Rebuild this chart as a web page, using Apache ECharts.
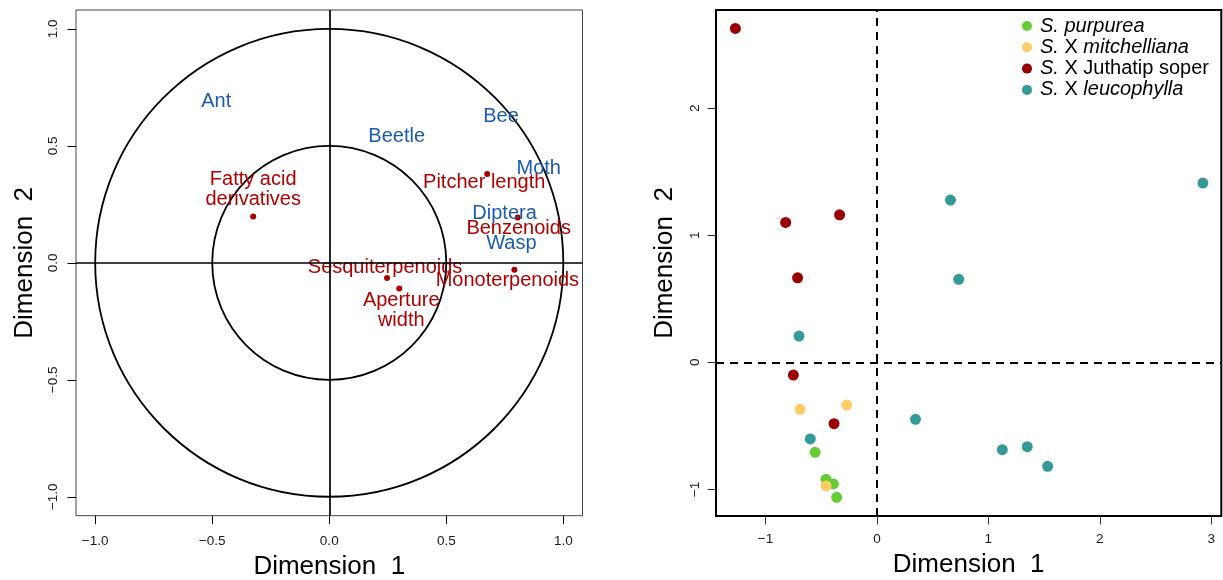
<!DOCTYPE html>
<html>
<head>
<meta charset="utf-8">
<script src="https://cdn.jsdelivr.net/npm/echarts@6/dist/echarts.min.js"></script>
<style>
html,body{margin:0;padding:0;background:#fff;}
#chart{width:1223px;height:580px;}
</style>
</head>
<body>
<div id="chart"></div>
<script>
// ---------- Left panel: correlation circle ----------
const loadingNames = ['Fatty acid\nderivatives', 'Pitcher length', 'Benzenoids', 'Monoterpenoids', 'Sesquiterpenoids', 'Aperture\nwidth'];
const loadingX = [-0.325, 0.675, 0.805, 0.791, 0.247, 0.299];
const loadingY = [0.198, 0.380, 0.194, -0.030, -0.065, -0.110];

const pollinatorNames = ['Ant', 'Beetle', 'Bee', 'Moth', 'Diptera', 'Wasp'];
const pollinatorX = [-0.483, 0.288, 0.734, 0.895, 0.749, 0.778];
const pollinatorY = [0.689, 0.542, 0.625, 0.404, 0.209, 0.081];

const circleRadii = [0.5, 1.0];
const leftTicks = [-1.0, -0.5, 0.0, 0.5, 1.0];

// ---------- Right panel: individual plants ----------
const speciesNames = ['S. purpurea', 'S. X mitchelliana', 'S. X Juthatip soper', 'S. X leucophylla'];
const purpureaX = [-0.555, -0.457, -0.391, -0.361];
const purpureaY = [-0.708, -0.920, -0.957, -1.062];
const mitchellianaX = [-0.690, -0.271, -0.457];
const mitchellianaY = [-0.370, -0.336, -0.973];
const juthatipX = [-1.270, -0.819, -0.335, -0.712, -0.750, -0.385];
const juthatipY = [2.627, 1.101, 1.161, 0.665, -0.100, -0.483];
const leucophyllaX = [2.925, 0.660, 0.734, -0.699, 0.346, -0.598, 1.125, 1.349, 1.532];
const leucophyllaY = [1.410, 1.277, 0.653, 0.207, -0.448, -0.603, -0.687, -0.664, -0.818];

const rightXTicks = [-1, 0, 1, 2, 3];
const rightYTicks = [-1, 0, 1, 2];
const referenceLines = [0];

// ---------- styles ----------
const FONT = '"Liberation Sans", Arial, sans-serif';
const RED = '#A80000';
const RED_TXT = '#B00000';
const BLUE_TXT = '#1A5CAE';
const speciesColors = ['#66CC33', '#FFCC66', '#990000', '#339999'];
const redLabelOffsets = [[0, -27], [-3, 9], [1, 11], [-7, 11], [-2, -11], [2, 22]];
const legendRich = {
  'S. purpurea': '{i|S. purpurea}',
  'S. X mitchelliana': '{i|S.} X {i|mitchelliana}',
  'S. X Juthatip soper': '{i|S.} X Juthatip soper',
  'S. X leucophylla': '{i|S.} X {i|leucophylla}'
};

const minus = s => s.replace('-', '\u2212');
const pairs = (xs, ys) => xs.map((x, i) => [x, ys[i]]);

function axisCommon(gridIndex, ticks, fmt, margin, tickColor, rotate) {
  return {
    gridIndex: gridIndex,
    type: 'value',
    axisLine: { show: false, onZero: false },
    splitLine: { show: false },
    axisTick: { show: true, inside: false, length: 8.5, customValues: ticks, lineStyle: { color: tickColor, width: 1 } },
    axisLabel: { show: true, customValues: ticks, formatter: fmt, margin: margin, rotate: rotate || 0,
      color: '#1a1a1a', fontSize: 13.5, fontFamily: FONT },
    nameLocation: 'middle',
    nameTextStyle: { color: '#000', fontSize: 26, fontFamily: FONT }
  };
}

const chart = echarts.init(document.getElementById('chart'), null, { renderer: 'canvas' });

const leftFmt = v => minus(Number(v).toFixed(1));
const rightFmt = v => minus(String(Math.round(v)));

const option = {
  animation: false,
  backgroundColor: '#fff',
  grid: [
    { left: 76, right: 640.5, top: 10, bottom: 64.3, show: true, borderColor: '#444', borderWidth: 1, backgroundColor: 'transparent', outerBoundsMode: 'none', containLabel: false },
    { left: 716, right: 1.7, top: 10, bottom: 64, show: true, borderColor: '#000', borderWidth: 2, backgroundColor: 'transparent', outerBoundsMode: 'none', containLabel: false }
  ],
  xAxis: [
    Object.assign(axisCommon(0, leftTicks, leftFmt, 19, '#000'), { min: -1.082, max: 1.082, name: 'Dimension  1', nameGap: 36 }),
    Object.assign(axisCommon(1, rightXTicks, rightFmt, 16, '#333'), { min: -1.444, max: 3.090, name: 'Dimension  1', nameGap: 36 })
  ],
  yAxis: [
    Object.assign(axisCommon(0, leftTicks, leftFmt, 15.5, '#000', 90), { min: -1.081, max: 1.081, name: 'Dimension  2', nameGap: 38 }),
    Object.assign(axisCommon(1, rightYTicks, rightFmt, 14, '#333', 90), { min: -1.209, max: 2.772, name: 'Dimension  2', nameGap: 38 })
  ],
  legend: {
    data: speciesNames,
    orient: 'vertical',
    left: 1017,
    top: 11,
    icon: 'circle',
    itemWidth: 16,
    itemHeight: 10,
    itemGap: 1.3,
    selectedMode: false,
    formatter: name => legendRich[name],
    textStyle: {
      color: '#000', fontSize: 20, fontFamily: FONT, lineHeight: 20,
      rich: { i: { fontStyle: 'italic', fontSize: 20, fontFamily: FONT, lineHeight: 20, color: '#000' } }
    }
  },
  series: [
    // circles of correlation
    {
      type: 'custom', xAxisIndex: 0, yAxisIndex: 0, silent: true, z: 1,
      data: circleRadii.map(r => [0, 0, r]),
      encode: { x: 0, y: 1 },
      renderItem: function (params, api) {
        const c = api.coord([api.value(0), api.value(1)]);
        const s = api.size([api.value(2), api.value(2)]);
        return { type: 'ellipse', shape: { cx: c[0], cy: c[1], rx: s[0], ry: s[1] },
          style: { fill: 'none', stroke: '#000', lineWidth: 1.8 } };
      }
    },
    // axes through origin (left)
    {
      type: 'scatter', xAxisIndex: 0, yAxisIndex: 0, data: [], silent: true, z: 1,
      markLine: { silent: true, symbol: ['none', 'none'], animation: false, label: { show: false },
        lineStyle: { color: '#000', type: 'solid', width: 1.7 },
        emphasis: { disabled: true },
        data: referenceLines.map(v => ({ xAxis: v })).concat(referenceLines.map(v => ({ yAxis: v }))) }
    },
    // trait / volatile loadings
    {
      type: 'scatter', xAxisIndex: 0, yAxisIndex: 0, symbol: 'circle', symbolSize: 6, z: 3, silent: true,
      itemStyle: { color: RED, opacity: 1 },
      data: loadingNames.map((n, i) => ({ name: n, value: [loadingX[i], loadingY[i]], label: { offset: redLabelOffsets[i] } })),
      label: { show: true, position: 'inside', formatter: p => p.name, color: RED_TXT, fontSize: 20, fontFamily: FONT,
        lineHeight: 20, align: 'center', verticalAlign: 'middle' }
    },
    // pollinator labels (text only)
    {
      type: 'custom', xAxisIndex: 0, yAxisIndex: 0, silent: true, z: 4,
      data: pairs(pollinatorX, pollinatorY),
      encode: { x: 0, y: 1 },
      renderItem: function (params, api) {
        const c = api.coord([api.value(0), api.value(1)]);
        return { type: 'text', x: c[0], y: c[1],
          style: { text: pollinatorNames[params.dataIndex], fill: BLUE_TXT, fontSize: 20, fontFamily: FONT,
            align: 'center', verticalAlign: 'middle' } };
      }
    },
    // dashed reference lines (right)
    {
      type: 'scatter', xAxisIndex: 1, yAxisIndex: 1, data: [], silent: true, z: 1,
      markLine: { silent: true, symbol: ['none', 'none'], animation: false, label: { show: false },
        lineStyle: { color: '#000', type: [8, 6], width: 2 },
        emphasis: { disabled: true },
        data: referenceLines.map(v => ({ xAxis: v })).concat(referenceLines.map(v => ({ yAxis: v }))) }
    },
    { name: speciesNames[0], type: 'scatter', xAxisIndex: 1, yAxisIndex: 1, symbol: 'circle', symbolSize: 11, z: 3,
      itemStyle: { color: speciesColors[0], opacity: 1 }, data: pairs(purpureaX, purpureaY) },
    { name: speciesNames[1], type: 'scatter', xAxisIndex: 1, yAxisIndex: 1, symbol: 'circle', symbolSize: 11, z: 3,
      itemStyle: { color: speciesColors[1], opacity: 1 }, data: pairs(mitchellianaX, mitchellianaY) },
    { name: speciesNames[2], type: 'scatter', xAxisIndex: 1, yAxisIndex: 1, symbol: 'circle', symbolSize: 11, z: 3,
      itemStyle: { color: speciesColors[2], opacity: 1 }, data: pairs(juthatipX, juthatipY) },
    { name: speciesNames[3], type: 'scatter', xAxisIndex: 1, yAxisIndex: 1, symbol: 'circle', symbolSize: 11, z: 3,
      itemStyle: { color: speciesColors[3], opacity: 1 }, data: pairs(leucophyllaX, leucophyllaY) }
  ]
};

chart.setOption(option);
</script>
</body>
</html>
